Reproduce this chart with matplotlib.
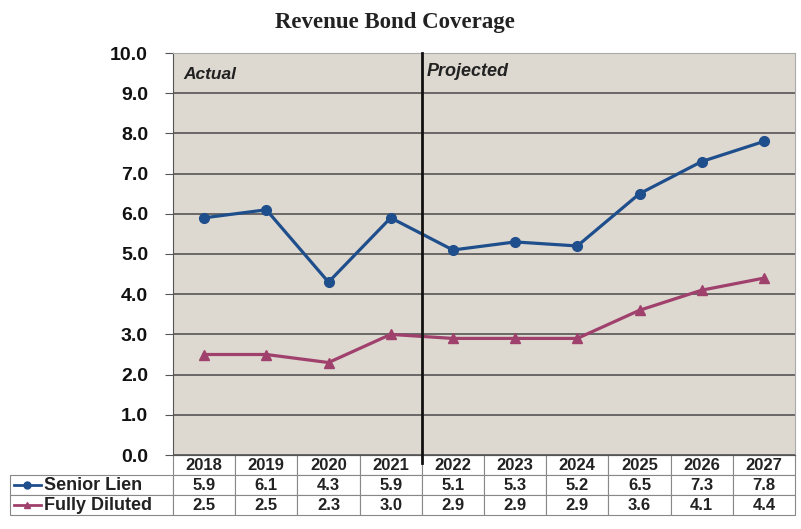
import matplotlib.pyplot as plt
from matplotlib.lines import Line2D

years = ['2018', '2019', '2020', '2021', '2022', '2023', '2024', '2025', '2026', '2027']
series_names = ['Senior Lien', 'Fully Diluted']
senior_lien = [5.9, 6.1, 4.3, 5.9, 5.1, 5.3, 5.2, 6.5, 7.3, 7.8]
fully_diluted = [2.5, 2.5, 2.3, 3.0, 2.9, 2.9, 2.9, 3.6, 4.1, 4.4]
y_ticks = [0, 1, 2, 3, 4, 5, 6, 7, 8, 9, 10]

blue = '#1f4e8c'
pink = '#a0406c'
bg = '#ddd8d0'

plt.rcParams['font.family'] = ['Liberation Sans', 'DejaVu Sans']

fig = plt.figure(figsize=(8.01, 5.29), dpi=100)
ax = fig.add_axes([173 / 801, 1 - 455 / 529, 622 / 801, 402 / 529])
ax.set_facecolor(bg)

x = list(range(len(years)))
ax.plot(x, senior_lien, color=blue, lw=2.3, marker='o', ms=7, zorder=4)
ax.plot(x, fully_diluted, color=pink, lw=2.3, marker='^', ms=6.5, zorder=4)

# actual / projected divider
ax.axvline(3.5, ymin=-0.02, ymax=1, color='#111111', lw=2, zorder=5, clip_on=False)
ax.text(0.016, 0.965, 'Actual', transform=ax.transAxes, fontsize=12.5, fontweight='bold',
        style='italic', va='top', ha='left', color='#222222')
ax.text(0.408, 0.975, 'Projected', transform=ax.transAxes, fontsize=13, fontweight='bold',
        style='italic', va='top', ha='left', color='#222222')

ax.set_xlim(-0.5, 9.5)
ax.set_ylim(0, 10)
ax.set_yticks(y_ticks)
ax.set_yticklabels([f'{v:.1f}' for v in y_ticks], fontsize=14, fontweight='bold', color='#111111')
ax.tick_params(axis='y', length=6, color='#555555', pad=12)
ax.set_xticks([])
ax.grid(axis='y', color='#555555', lw=1.2)
ax.set_axisbelow(True)
for side in ['top', 'right']:
    ax.spines[side].set_color('#aaaaaa')
ax.spines['left'].set_color('#555555')
ax.spines['bottom'].set_color('#555555')

# data table under the chart
label_w = 163 / 622
rows = [[''] + years,
        [''] + [f'{v:.1f}' for v in senior_lien],
        [''] + [f'{v:.1f}' for v in fully_diluted]]
tbl = ax.table(cellText=rows, cellLoc='center',
               colWidths=[label_w] + [0.1] * len(years),
               bbox=[-label_w, -60 / 402, 1 + label_w, 60 / 402])
tbl.auto_set_font_size(False)
for (r, c), cell in tbl.get_celld().items():
    cell.set_edgecolor('#888888')
    cell.set_linewidth(0.8)
    cell.set_facecolor('white')
    cell.get_text().set_fontsize(12)
    cell.get_text().set_fontweight('bold')
    cell.get_text().set_color('#222222')
    if r == 0 and c == 0:
        cell.visible_edges = ''

# row labels with legend keys
for r, (name, col, mk) in enumerate(zip(series_names, [blue, pink], ['o', '^']), start=1):
    yk = -(20 * r + 10) / 402
    ax.add_line(Line2D([-label_w + 0.006, -label_w + 0.05], [yk, yk], color=col, lw=2,
                       transform=ax.transAxes, clip_on=False))
    ax.add_line(Line2D([-label_w + 0.028], [yk], color=col, marker=mk, ms=5,
                       transform=ax.transAxes, clip_on=False))
    ax.text((44 - 173) / 622, yk, name, transform=ax.transAxes, ha='left', va='center',
            fontsize=13, fontweight='bold', color='#222222')

fig.text(0.493, 0.958, 'Revenue Bond Coverage', ha='center', va='center', fontsize=16.5,
         fontweight='bold', family='Liberation Serif', color='#222222')

fig.savefig('out.png', dpi=100)
plt.close('all')
